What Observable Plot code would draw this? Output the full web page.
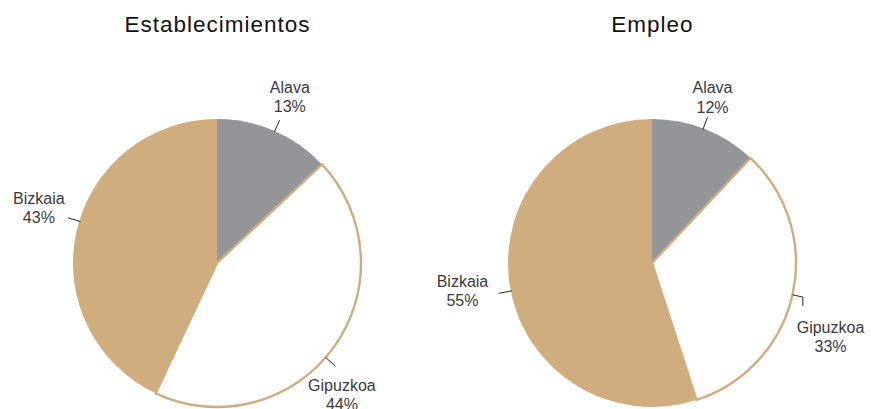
<!DOCTYPE html>
<html><head><meta charset="utf-8">
<script src="https://cdn.jsdelivr.net/npm/d3@7"></script>
<script src="https://cdn.jsdelivr.net/npm/@observablehq/plot@0.6"></script>
<style>
html,body{margin:0;padding:0;background:#fff;overflow:hidden;}
#wrap{display:flex;width:871px;height:409px;overflow:hidden;}
.panel{width:435px;flex:none;}
.title{height:36px;padding-top:14px;text-align:center;font-family:"Liberation Sans",Arial,sans-serif;font-size:22.5px;letter-spacing:1px;line-height:22px;color:#111;}
</style></head><body><div id="wrap"></div>
<script>
// ---- data ----
const regions = ["Alava", "Gipuzkoa", "Bizkaia"];
const panelTitles = ["Establecimientos", "Empleo"];
const establecimientos = [13, 44, 43];
const empleo = [12, 33, 55];

// ---- styles / layout ----
const fills = ["#939598", "#ffffff", "#cfad7e"];
const strokes = ["none", "#cfad7e", "none"];
const R = 144;            // pie radius in px
const W = 435, H = 370;   // svg size per panel
const CX = 217, CY = 213; // pie centre inside svg
const layouts = [
  {labelShift: [0, 10.5, 4.8], labelR: [1.264, 1.255, 1.30], leaderShift: [0, 5, 4.4], elbow: -1},
  {labelShift: [-1.8, 9.7, 0.9], labelR: [1.23, 1.336, 1.333], leaderShift: [-1, 0, -2], elbow: 1}
];

const pol = (r, deg) => [r * Math.sin(deg * Math.PI / 180), r * Math.cos(deg * Math.PI / 180)];

function pieMark(values) {
  return (index, scales) => {
    const sx = scales.x, sy = scales.y;
    const cx = sx(0), cy = sy(0), r = Math.abs(sx(1) - sx(0));
    const arcs = d3.pie().sort(null).value(d => d)(values);
    const arc = d3.arc().innerRadius(0).outerRadius(r);
    const g = d3.create("svg:g").attr("transform", `translate(${cx},${cy})`);
    const order = [0, 2, 1];
    for (const i of order) {
      g.append("path")
        .attr("d", arc(arcs[i]))
        .attr("fill", fills[i])
        .attr("stroke", strokes[i])
        .attr("stroke-width", 2.4)
        .attr("stroke-linejoin", "miter");
    }
    return g.node();
  };
}

const wrap = document.getElementById("wrap");
[establecimientos, empleo].forEach((values, p) => {
  const lay = layouts[p];
  const arcs = d3.pie().sort(null).value(d => d)(values);
  const mids = arcs.map(a => (a.startAngle + a.endAngle) / 2 * 180 / Math.PI);
  const labels = regions.map((name, i) => {
    const [x, y] = pol(lay.labelR[i], mids[i] + lay.labelShift[i]);
    return {x, y, text: `${name}\n${values[i]}%`};
  });
  const leaders = [];
  const elbowPts = [];
  regions.forEach((name, i) => {
    const a = mids[i] + lay.leaderShift[i];
    if (i === lay.elbow) {
      const p0 = pol(1.0, a), p1 = pol(1.07, a);
      elbowPts.push({x: p0[0], y: p0[1]}, {x: p1[0], y: p1[1]}, {x: p1[0], y: p1[1] - 0.058});
    } else {
      const p0 = pol(0.995, a), p1 = pol(1.085, a);
      leaders.push({x1: p0[0], y1: p0[1], x2: p1[0], y2: p1[1]});
    }
  });

  const chart = Plot.plot({
    width: W, height: H,
    marginTop: 0, marginRight: 0, marginBottom: 0, marginLeft: 0,
    x: {domain: [-CX / R, (W - CX) / R], axis: null},
    y: {domain: [-(H - CY) / R, CY / R], axis: null},
    style: {background: "transparent", overflow: "visible"},
    marks: [
      pieMark(values),
      Plot.link(leaders, {x1: "x1", y1: "y1", x2: "x2", y2: "y2", stroke: "#222", strokeWidth: 1}),
      Plot.line(elbowPts, {x: "x", y: "y", stroke: "#222", strokeWidth: 1, curve: "linear"}),
      Plot.text(labels, {x: "x", y: "y", text: "text", fontSize: 16, lineHeight: 1.2,
        fill: "#3a3a3a", fontFamily: "Liberation Sans, Arial, sans-serif", lineAnchor: "middle"})
    ]
  });

  const panel = document.createElement("div");
  panel.className = "panel";
  const t = document.createElement("div");
  t.className = "title";
  t.textContent = panelTitles[p];
  panel.appendChild(t);
  panel.appendChild(chart);
  wrap.appendChild(panel);
});
</script>
</body></html>
